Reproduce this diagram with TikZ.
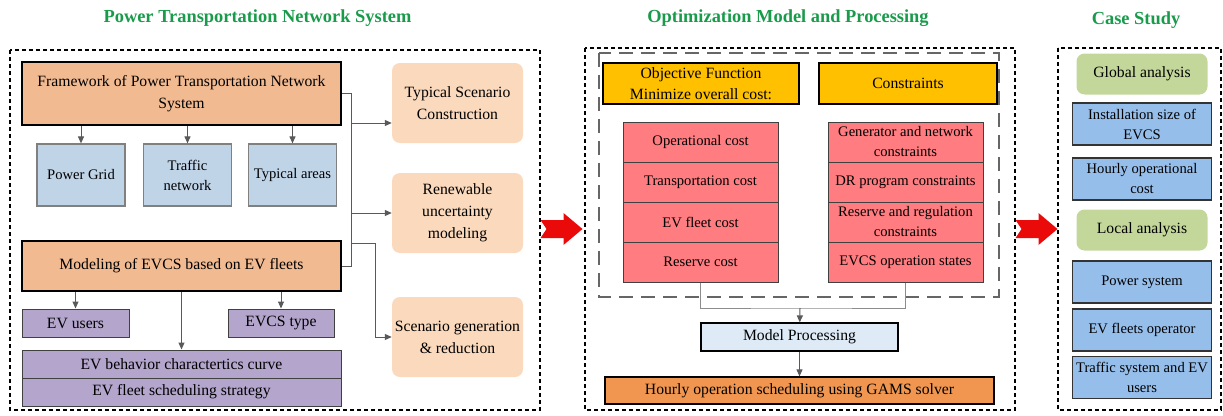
\documentclass[tikz,border=0pt]{standalone}
\usepackage{fontspec}
\setmainfont{Liberation Serif}
\usetikzlibrary{arrows.meta}

\definecolor{titlegreen}{RGB}{25,155,75}
\definecolor{frameorange}{RGB}{242,186,145}
\definecolor{scenpeach}{RGB}{250,217,188}
\definecolor{partblue}{RGB}{192,212,232}
\definecolor{fleetpurple}{RGB}{180,165,205}
\definecolor{headgold}{RGB}{255,192,0}
\definecolor{costpink}{RGB}{255,124,128}
\definecolor{procblue}{RGB}{222,235,247}
\definecolor{solveorange}{RGB}{240,150,80}
\definecolor{caseblue}{RGB}{150,190,235}
\definecolor{caseolive}{RGB}{196,215,155}
\definecolor{arrowred}{RGB}{235,10,10}

\begin{document}
\begin{tikzpicture}
[x=1pt,y=-1pt,
  boxdecorate/.style={shape=rectangle,align=center,inner sep=1pt,
    font=\fontsize{15.7}{22}\selectfont},
  smalltext/.style={font=\fontsize{14.6}{20}\selectfont},
  framedecorate/.style={boxdecorate,draw,line width=1.8pt,fill=frameorange,
    minimum width=319pt},
  partdecorate/.style={boxdecorate,smalltext,draw=gray,line width=1.2pt,fill=partblue,
    minimum width=88pt,minimum height=62pt},
  fleetdecorate/.style={boxdecorate,draw=black!75,line width=1pt,fill=fleetpurple,
    minimum height=28pt},
  scendecorate/.style={boxdecorate,rounded corners=8pt,fill=scenpeach,
    minimum width=131pt,minimum height=80pt},
  golddecorate/.style={boxdecorate,draw,line width=1.2pt,fill=headgold,
    minimum height=41pt,font=\fontsize{15.7}{20.5}\selectfont},
  costdecorate/.style={boxdecorate,smalltext,draw=black!75,line width=1pt,fill=costpink,
    minimum width=155pt,minimum height=40pt},
  casedecorate/.style={boxdecorate,smalltext,draw=black!80,line width=1.2pt,fill=caseblue,
    minimum width=139pt,minimum height=42pt},
  olivedecorate/.style={boxdecorate,rounded corners=8pt,fill=caseolive,
    minimum width=131pt,minimum height=41pt},
  headdecorate/.style={font=\fontsize{18.4}{21}\selectfont\bfseries,text=titlegreen},
  paneldecorate/.style={draw,line width=2pt,dash pattern=on 4pt off 3pt},
  linedecorate/.style={draw=black!65,line width=1pt},
  arrowdecorate/.style={linedecorate,-{Triangle[length=7pt,width=6pt]}},
  bigarrow/.pic={\fill[arrowred] (-21,-9) -- (2,-9) -- (2,-16) -- (21,0)
    -- (2,16) -- (2,9) -- (-21,9) -- (-15,0) -- cycle;}]
\useasboundingbox (0,0) rectangle (1223,415);

%% headings and panels
\foreach \nodename/\x/\y/\txt in {headleft/257.5/18/Power Transportation Network System,
  headmid/788/18/Optimization Model and Processing, headright/1136/20/Case Study}
{
  \node (\nodename) at (\x,\y) [headdecorate] {\txt};
}
\draw[paneldecorate] (10,50) rectangle (540,410);
\draw[paneldecorate] (585,48) rectangle (1015,410);
\draw[paneldecorate] (1058,48) rectangle (1221,410);
\draw[draw=black!60,line width=1.5pt,dash pattern=on 14pt off 8pt] (599,53) rectangle (999,297);

%% left panel: framework and EVCS model
\node (frame) at (181.5,93.5) [framedecorate,minimum height=63pt]
  {Framework of Power Transportation Network\\System};
\foreach \nodename/\x/\txt in {grid/81/Power Grid, traffic/187.5/{Traffic\\network},
  areas/292.5/Typical areas}
{
  \node (\nodename) at (\x,175) [partdecorate] {\txt};
}
\node (model) at (181.5,266) [framedecorate,minimum height=50pt]
  {Modeling of EVCS based on EV fleets};
\node (users) at (75.5,323) [fleetdecorate,minimum width=107pt] {EV users};
\node (type) at (281,323) [fleetdecorate,minimum width=106pt] {EVCS type};
\node (behavior) at (181.5,364) [fleetdecorate,minimum width=319pt]
  {EV behavior charactertics curve};
\node (strategy) at (181.5,392) [fleetdecorate,minimum width=319pt]
  {EV fleet scheduling strategy};
\foreach \nodename/\y/\txt in {scen1/103/{Typical Scenario\\Construction},
  scen2/213/{Renewable\\uncertainty\\modeling}, scen3/337/{Scenario generation\\\& reduction}}
{
  \node (\nodename) at (457.5,\y) [scendecorate] {\txt};
}

%% middle panel: objective, constraints and solving
\node (objective) at (701,83.5) [golddecorate,minimum width=196pt]
  {Objective Function\\Minimize overall cost:};
\node (constraints) at (908,83.5) [golddecorate,minimum width=178pt] {Constraints};
\foreach \nodename/\y/\txt in {cost1/142/Operational cost, cost2/182/Transportation cost,
  cost3/222/EV fleet cost, cost4/262/Reserve cost}
{
  \node (\nodename) at (700.5,\y) [costdecorate] {\txt};
}
\foreach \nodename/\y/\txt in {cons1/142/{Generator and network\\constraints},
  cons2/182/DR program constraints, cons3/222/{Reserve and regulation\\constraints},
  cons4/262/EVCS operation states}
{
  \node (\nodename) at (905.5,\y) [costdecorate] {\txt};
}
\node (proc) at (799.5,337) [boxdecorate,draw,line width=1.2pt,fill=procblue,
  minimum width=197pt,minimum height=28pt] {Model Processing};
\node (hourly) at (799.5,390.5) [boxdecorate,draw,line width=1.2pt,fill=solveorange,
  minimum width=389pt,minimum height=27pt] {Hourly operation scheduling using GAMS solver};

%% right panel: case study results
\foreach \nodename/\y/\boxstyle/\txt in {global/74/olivedecorate/Global analysis,
  install/124/casedecorate/{Installation size of\\EVCS},
  opcost/179/casedecorate/{Hourly operational\\cost},
  local/230/olivedecorate/Local analysis,
  power/282/casedecorate/Power system,
  fleets/330/casedecorate/EV fleets operator,
  trafficsys/377.5/casedecorate/{Traffic system and EV\\users}}
{
  \node (\nodename) at (1142,\y) [\boxstyle] {\txt};
}

%% edges or lines
\foreach \endnode in {grid, traffic, areas}
  \draw[arrowdecorate] (frame.south -| \endnode) -- (\endnode);
\foreach \endnode in {users, type, behavior}
  \draw[arrowdecorate] (model.south -| \endnode) -- (\endnode);
\coordinate (trunk) at (351,93.5);
\coordinate (scenin) at ([yshift=-20pt]scen1.west);
\coordinate (split) at (375,243);
\draw[linedecorate] (frame.east) -- (trunk) |- (model.east);
\draw[arrowdecorate] (trunk |- scenin) -- (scenin);
\draw[arrowdecorate] (trunk |- scen2.west) -- (scen2.west);
\draw[arrowdecorate] (trunk |- split) -- (split) |- (scen3.west);
\coordinate (merge) at (800,308);
\draw[linedecorate,draw=black!45] (cost4.south) |- (merge) -| (cons4.south);
\draw[arrowdecorate] (merge) -- (proc);
\draw[arrowdecorate] (proc) -- (hourly);

%% block arrows between panels
\pic at (561.5,229) {bigarrow};
\pic at (1036.5,229) {bigarrow};
\end{tikzpicture}
\end{document}
